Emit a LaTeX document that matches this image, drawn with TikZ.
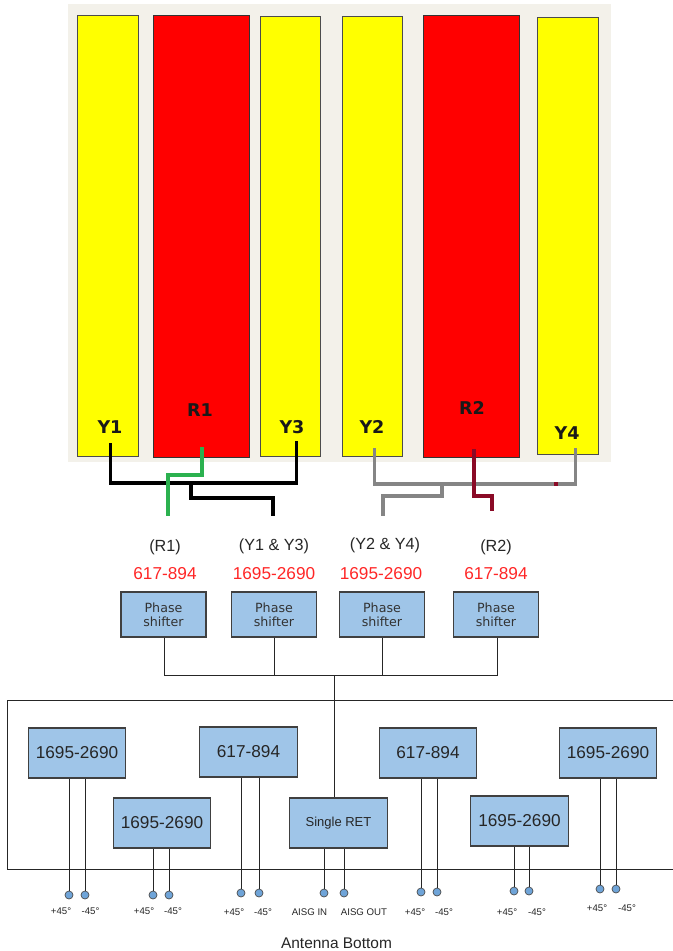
\documentclass[tikz,border=0pt]{standalone}
\usepackage{fontspec}
\setmainfont{Liberation Sans}
\newfontfamily\dejavu{DejaVu Sans}
\usetikzlibrary{positioning}
\definecolor{panelbg}{HTML}{F3F1EA}
\definecolor{stripyellow}{HTML}{FFFF00}
\definecolor{stripred}{HTML}{FF0000}
\definecolor{boxblue}{HTML}{9FC5E8}
\definecolor{pinblue}{HTML}{6FA4D8}
\definecolor{wiregreen}{HTML}{2BB14F}
\definecolor{wiregray}{HTML}{858585}
\definecolor{wirered}{HTML}{8A0A26}
\tikzstyle{yellowstrip} = [draw=black!70, fill=stripyellow, line width=0.5pt, inner sep=0pt]
\tikzstyle{redstrip}    = [draw=black!80, fill=stripred, line width=0.5pt, inner sep=0pt]
\tikzstyle{striplabel}  = [font=\dejavu\bfseries\fontsize{10}{12}\selectfont, inner sep=0pt, text=black!90]
\tikzstyle{shifter}     = [draw=black!75, fill=boxblue, line width=0.7pt, minimum width=1.7cm, minimum height=0.9cm, inner sep=0pt, align=center, font=\dejavu\fontsize{7.2}{8}\selectfont, text=black!80]
\tikzstyle{bandbox}     = [draw=black!75, fill=boxblue, line width=0.7pt, minimum width=1.95cm, minimum height=1cm, inner sep=0pt, font=\fontsize{9.8}{11}\selectfont, text=black!85]
\tikzstyle{pin}         = [circle, draw=black!70, fill=pinblue, line width=0.4pt, minimum size=0.16cm, inner sep=0pt]
\tikzstyle{pinlabel}    = [font=\fontsize{5.5}{6}\selectfont, inner sep=0pt, text=black!85]
\tikzstyle{bandlabel}   = [font=\fontsize{9.8}{11}\selectfont, inner sep=0pt, text=red!85]
\tikzstyle{grouplabel}  = [font=\fontsize{9.2}{11}\selectfont, inner sep=0pt, text=black!85]
\tikzstyle{edge}        = [line width=0.55pt, black!85]
\tikzstyle{feed}        = [line width=1.9pt, miter limit=10]

\begin{document}
\begin{tikzpicture}[x=0.02cm,y=-0.02cm]

    \useasboundingbox (0,0) rectangle (673,951);

    % radiating elements
    \fill[panelbg] (68,4) rectangle (611,462);
    \node[yellowstrip, minimum width=1.22cm, minimum height=8.82cm] (Y1strip) at (108,235.5) {};
    \node[redstrip, minimum width=1.92cm, minimum height=8.84cm]    (R1strip) at (201.5,236) {};
    \node[yellowstrip, minimum width=1.2cm, minimum height=8.8cm]   (Y3strip) at (290.5,236) {};
    \node[yellowstrip, minimum width=1.2cm, minimum height=8.8cm]   (Y2strip) at (372,236) {};
    \node[redstrip, minimum width=1.92cm, minimum height=8.84cm]    (R2strip) at (471.5,236) {};
    \node[yellowstrip, minimum width=1.22cm, minimum height=8.74cm] (Y4strip) at (567.5,235.5) {};

    \node[striplabel] (Y1) at (110,427) {Y1};
    \node[striplabel] (R1) at (200,410) {R1};
    \node[striplabel] (Y3) at (292,427) {Y3};
    \node[striplabel] (Y2) at (372,427) {Y2};
    \node[striplabel] (R2) at (472,408) {R2};
    \node[striplabel] (Y4) at (567,433) {Y4};

    % feed lines
    \coordinate (Y1feed) at (110.5,443);
    \coordinate (R1feed) at (202,447);
    \coordinate (Y3feed) at (296.5,441);
    \coordinate (Y2feed) at (374.5,448);
    \coordinate (R2feed) at (474,449);
    \coordinate (Y4feed) at (575.5,448);
    \coordinate (R1end)  at (168,516);
    \coordinate (Y13end) at (273,516);
    \coordinate (Y24end) at (383,516);
    \coordinate (R2end)  at (492,511);
    \coordinate (Y13tap) at (191,483);
    \coordinate (Y24tap) at (442,484);
    \coordinate (Mark)   at (554,484);

    \draw[feed, black] (Y1feed) |- (Y3feed |- Y13tap) -- (Y3feed);
    \draw[feed, black] (Y13tap) |- (273,498) -- (Y13end);
    \draw[feed, wiregray] (Y2feed) |- (Y4feed |- Y24tap) -- (Y4feed);
    \draw[feed, wiregray] (Y24tap) |- (383,496) -- (Y24end);
    \draw[feed, wiregreen] (R1feed) |- (168,475) -- (R1end);
    \draw[feed, wirered] (R2feed) |- (492,496) -- (R2end);
    \draw[feed, wirered] (Mark) -- ++(4,0);

    % phase shifters
    \node[grouplabel] (G1) at (165,547) {(R1)};
    \node[grouplabel] (G2) at (274,546) {(Y1 \& Y3)};
    \node[grouplabel] (G3) at (385,545) {(Y2 \& Y4)};
    \node[grouplabel] (G4) at (496,547) {(R2)};

    \node[bandlabel] (F1) at (165,574) {617-894};
    \node[bandlabel] (F2) at (274,574) {1695-2690};
    \node[bandlabel] (F3) at (381,574) {1695-2690};
    \node[bandlabel] (F4) at (496,574) {617-894};

    \node[shifter] (PS1) at (163.5,614.5) {Phase\\shifter};
    \node[shifter] (PS2) at (274,614.5) {Phase\\shifter};
    \node[shifter] (PS3) at (382,614.5) {Phase\\shifter};
    \node[shifter] (PS4) at (496,614.5) {Phase\\shifter};

    \coordinate (Bus1) at (164,675);
    \coordinate (Bus4) at (497,675);
    \coordinate (BusC) at (334,675);

    \draw[edge] (PS1.south -| Bus1) -- (Bus1) -- (Bus4) -- (PS4.south -| Bus4);
    \draw[edge] (PS2.south) -- (PS2 |- Bus1);
    \draw[edge] (PS3.south) -- (PS3 |- Bus1);

    % antenna bottom
    \draw[edge] (673,700) -| (7,869) -- (673,869);

    \node[bandbox] (A) at (77,753) {1695-2690};
    \node[bandbox] (B) at (162,823) {1695-2690};
    \node[bandbox] (C) at (248.5,752) {617-894};
    \node[bandbox, font=\fontsize{7.4}{8}\selectfont] (D) at (338.5,823) {Single RET};
    \node[bandbox] (E) at (428,753) {617-894};
    \node[bandbox] (F) at (519.5,821) {1695-2690};
    \node[bandbox] (G) at (608,753) {1695-2690};

    \draw[edge] (BusC) -- (BusC |- D.north);

    \node[pin] (A1) at (69,895) {};
    \node[pin] (A2) at (85,895) {};
    \node[pin] (B1) at (153,895) {};
    \node[pin] (B2) at (169,895) {};
    \node[pin] (C1) at (241,893) {};
    \node[pin] (C2) at (259,893) {};
    \node[pin] (D1) at (324,893) {};
    \node[pin] (D2) at (344,893) {};
    \node[pin] (E1) at (421,892) {};
    \node[pin] (E2) at (437,892) {};
    \node[pin] (F1p) at (514,891) {};
    \node[pin] (F2p) at (529,891) {};
    \node[pin] (G1p) at (600,889) {};
    \node[pin] (G2p) at (616,889) {};

    \draw[edge] (A1) -- (A1 |- A.south);
    \draw[edge] (A2) -- (A2 |- A.south);
    \draw[edge] (B1) -- (B1 |- B.south);
    \draw[edge] (B2) -- (B2 |- B.south);
    \draw[edge] (C1) -- (C1 |- C.south);
    \draw[edge] (C2) -- (C2 |- C.south);
    \draw[edge] (D1) -- (D1 |- D.south);
    \draw[edge] (D2) -- (D2 |- D.south);
    \draw[edge] (E1) -- (E1 |- E.south);
    \draw[edge] (E2) -- (E2 |- E.south);
    \draw[edge] (F1p) -- (F1p |- F.south);
    \draw[edge] (F2p) -- (F2p |- F.south);
    \draw[edge] (G1p) -- (G1p |- G.south);
    \draw[edge] (G2p) -- (G2p |- G.south);

    \node[pinlabel] (A1t) at (61,911) {+45°};
    \node[pinlabel] (A2t) at (90.5,911) {-45°};
    \node[pinlabel] (B1t) at (144,911) {+45°};
    \node[pinlabel] (B2t) at (173,911) {-45°};
    \node[pinlabel] (C1t) at (234,912) {+45°};
    \node[pinlabel] (C2t) at (263,912) {-45°};
    \node[pinlabel] (D1t) at (309.5,912) {AISG IN};
    \node[pinlabel] (D2t) at (364,912) {AISG OUT};
    \node[pinlabel] (E1t) at (415,912) {+45°};
    \node[pinlabel] (E2t) at (444,912) {-45°};
    \node[pinlabel] (F1t) at (507,912) {+45°};
    \node[pinlabel] (F2t) at (537,912) {-45°};
    \node[pinlabel] (G1t) at (597,908) {+45°};
    \node[pinlabel] (G2t) at (627,908) {-45°};

    \node[font=\fontsize{8.8}{10}\selectfont, inner sep=0pt, text=black!85] (Bottom) at (336.5,943) {Antenna Bottom};

\end{tikzpicture}
\end{document}
